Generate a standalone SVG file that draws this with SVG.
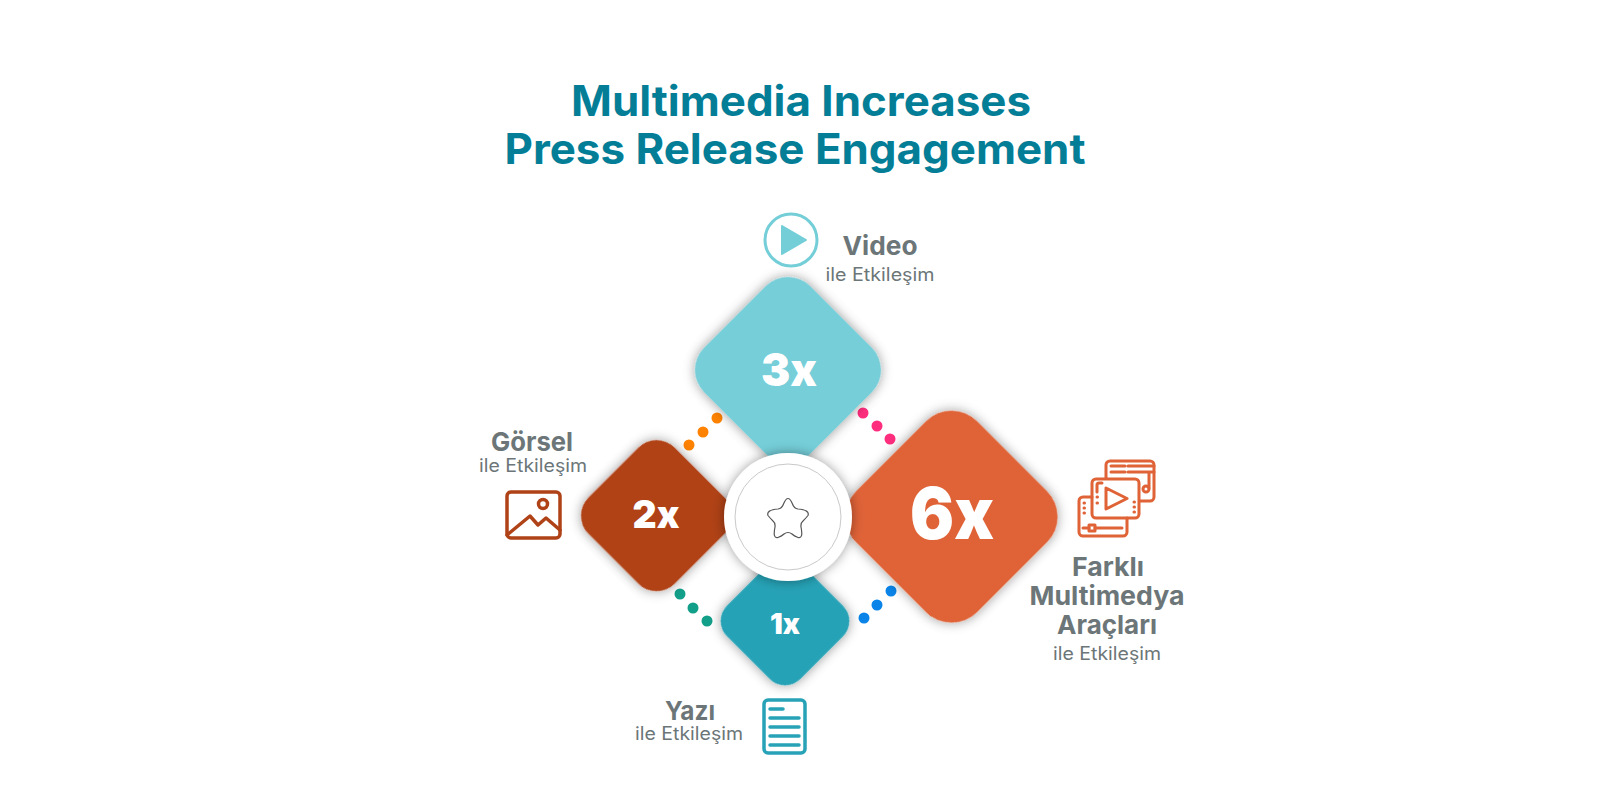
<svg xmlns="http://www.w3.org/2000/svg" width="1601" height="801" viewBox="0 0 1601 801">
<defs>
<style>
text{font-family:Inter,"Liberation Sans",sans-serif;text-anchor:middle}
.t{font-size:42px;font-weight:700;fill:#047e97}
.h{font-size:26px;font-weight:700;fill:#6c7678}
.s{font-size:18px;font-weight:400;fill:#6c7678}
.n{font-weight:900;fill:#fff}
.i{fill:none;stroke-width:3.5;stroke-linejoin:round;stroke-linecap:round}
.m{stroke-width:3}
</style>
<filter id="sh" x="-30%" y="-30%" width="160%" height="160%"><feDropShadow dx="0" dy="0" stdDeviation="6" flood-color="#000" flood-opacity=".4"/></filter>
</defs>
<rect width="1601" height="801" fill="#fff"/>
<g id="title">
<text class="t" x="801" y="116" textLength="460" lengthAdjust="spacingAndGlyphs">Multimedia Increases</text>
<text class="t" x="795" y="164" textLength="581" lengthAdjust="spacingAndGlyphs">Press Release Engagement</text>
</g>
<g id="connectors">
<g fill="#ff8200"><circle cx="717" cy="418" r="5.5"/><circle cx="703" cy="432" r="5.5"/><circle cx="689" cy="445" r="5.5"/></g>
<g fill="#ff2d7e"><circle cx="863" cy="413" r="5.5"/><circle cx="877" cy="426" r="5.5"/><circle cx="890" cy="439" r="5.5"/></g>
<g fill="#129f89"><circle cx="680" cy="594" r="5.5"/><circle cx="693" cy="608" r="5.5"/><circle cx="707" cy="621" r="5.5"/></g>
<g fill="#0a84e8"><circle cx="891" cy="591" r="5.5"/><circle cx="877" cy="605" r="5.5"/><circle cx="864" cy="618" r="5.5"/></g>
</g>
<g id="node-3x"><rect x="713" y="295" width="150" height="150" rx="31.500" fill="#74ced8" filter="url(#sh)" transform="rotate(45 788 370)"/><text class="n" x="789" y="386" font-size="46" textLength="56" lengthAdjust="spacingAndGlyphs">3x</text></g>
<g id="node-6x"><rect x="866.150" y="431.150" width="171" height="171" rx="36" fill="#e06337" filter="url(#sh)" transform="rotate(45 951.65 516.65)"/><text class="n" x="952" y="539" font-size="72" textLength="84" lengthAdjust="spacingAndGlyphs">6x</text></g>
<g id="node-2x"><rect x="595.600" y="454.800" width="121.800" height="121.800" rx="25.600" fill="#b04218" filter="url(#sh)" transform="rotate(45 656.5 515.7)"/><text class="n" x="656" y="528" font-size="38" textLength="47" lengthAdjust="spacingAndGlyphs">2x</text></g>
<g id="node-1x"><rect x="733.150" y="569.150" width="103.700" height="103.700" rx="21.800" fill="#27a2b6" filter="url(#sh)" transform="rotate(45 785 621)"/><text class="n" x="785" y="634" font-size="29" textLength="30" lengthAdjust="spacingAndGlyphs">1x</text></g>
<g id="node-center">
<circle cx="788" cy="517" r="64" fill="#fff" filter="url(#sh)"/>
<circle cx="788" cy="517" r="53" fill="#fff" stroke="#c9c9c9"/>
<path d="M783.500 504Q788 493 792.500 504Q794 508.500 798 509Q810 510 808 515.500Q806 518 803 521Q800.500 523 801 527Q803.500 539 798 537.500Q794 536 792 534Q788 531 784 534Q782 536 778 537.500Q772.500 539 775 527Q775.500 523 773 521Q770 518 768 515.500Q766 510 778 509Q782 508.500 783.500 504Z" fill="none" stroke="#555" stroke-width="1.200"/>
</g>
<g id="label-video">
<circle cx="791" cy="240" r="26" fill="none" stroke="#74ced8" stroke-width="3"/>
<path d="M782 226 L806 240 L782 254Z" fill="#74ced8" stroke="#74ced8" stroke-width="2" stroke-linejoin="round"/>
<text class="h" x="880" y="255" textLength="75" lengthAdjust="spacingAndGlyphs">Video</text>
<text class="s" x="880" y="281" textLength="109" lengthAdjust="spacingAndGlyphs">ile Etkileşim</text>
</g>
<g id="label-gorsel">
<text class="h" x="532" y="451" textLength="82" lengthAdjust="spacingAndGlyphs">Görsel</text>
<text class="s" x="533" y="472" textLength="108" lengthAdjust="spacingAndGlyphs">ile Etkileşim</text>
<g class="i" stroke="#b04218"><rect x="507" y="492" width="53" height="46" rx="4"/><circle cx="543" cy="504" r="4.500"/><path d="M507 535 L530 516 L538 525 L546 518 L560 530"/></g>
</g>
<g id="label-yazi">
<text class="h" x="690" y="720" textLength="50" lengthAdjust="spacingAndGlyphs">Yazı</text>
<text class="s" x="689" y="740" textLength="108" lengthAdjust="spacingAndGlyphs">ile Etkileşim</text>
<g class="i" stroke="#27a2b6"><rect x="764" y="700" width="41" height="53" rx="4"/><path d="M770 709h13M770 718h29M770 727h29M770 736h29M770 745h29"/></g>
</g>
<g id="label-farkli">
<g class="i m" stroke="#e06337">
<path d="M1106 478v-13a4 4 0 0 1 4-4h40a4 4 0 0 1 4 4v32a4 4 0 0 1-4 4h-10"/>
<path d="M1111 466h14M1111 472h14M1128 466h26M1128 472h26M1149 472v16"/><circle cx="1146" cy="489" r="3"/>
<rect x="1092" y="479" width="47" height="39" rx="4"/>
<path d="M1106 488v21l21-10.500zM1097 492v-7a2 2 0 0 1 2-2h3M1097 497h.5M1097 503h.5M1134 502h.5M1134 507h.5M1134 512h.5"/>
<path d="M1092 497h-9a4 4 0 0 0-4 4v31a4 4 0 0 0 4 4h40a4 4 0 0 0 4-4v-14"/>
<path d="M1084 503h.5M1084 508h.5M1084 513h.5M1083 528h6M1095 528h27"/><rect x="1089" y="525" width="6" height="6"/>
</g>
<text class="h" x="1108" y="576" textLength="72" lengthAdjust="spacingAndGlyphs">Farklı</text>
<text class="h" x="1107" y="605" textLength="155" lengthAdjust="spacingAndGlyphs">Multimedya</text>
<text class="h" x="1107" y="634" textLength="100" lengthAdjust="spacingAndGlyphs">Araçları</text>
<text class="s" x="1107" y="660" textLength="108" lengthAdjust="spacingAndGlyphs">ile Etkileşim</text>
</g>
</svg>
